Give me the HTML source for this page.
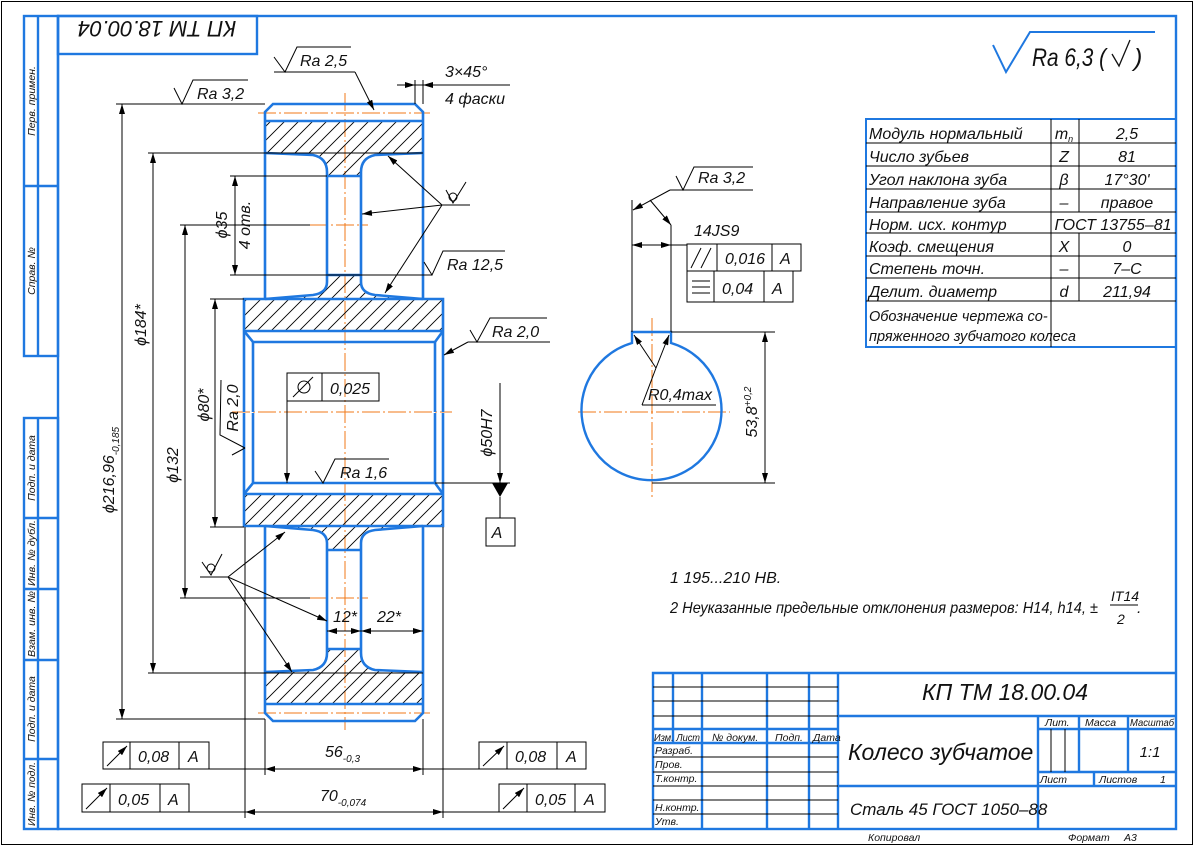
<!DOCTYPE html>
<html><head><meta charset="utf-8">
<style>
html,body{margin:0;padding:0;background:#fff;}
svg{display:block;}
text{font-family:"Liberation Sans","DejaVu Sans",sans-serif;font-style:italic;fill:#111;}
</style></head>
<body>
<svg width="1194" height="846" viewBox="0 0 1194 846" xmlns="http://www.w3.org/2000/svg">
<defs>
<marker id="a" viewBox="0 0 10 6" refX="10" refY="3" markerWidth="10" markerHeight="6" orient="auto-start-reverse" markerUnits="userSpaceOnUse"><path d="M0,0 L10,3 L0,6 Z" fill="#000"/></marker>
<pattern id="h" patternUnits="userSpaceOnUse" x="0" y="0" width="14" height="14"><path d="M0,14 L14,0 M-2,2 L2,-2 M12,16 L16,12" stroke="#000" stroke-width="0.9" fill="none"/></pattern>
<clipPath id="c">
 <path d="M265,121 H423 V153 L375,155 Q361,158 361,172 V176 H327 V172 Q327,158 313,155 L265,153 Z"/>
 <path d="M327,275 H361 V282 Q361,293 375,295 L423,299 H265 L313,295 Q327,293 327,282 Z"/>
 <path d="M244,299 H443 V331 H244 Z"/>
 <path transform="matrix(1,0,0,-1,0,825)" d="M265,121 H423 V153 L375,155 Q361,158 361,172 V176 H327 V172 Q327,158 313,155 L265,153 Z"/>
 <path transform="matrix(1,0,0,-1,0,825)" d="M327,275 H361 V282 Q361,293 375,295 L423,299 H265 L313,295 Q327,293 327,282 Z"/>
 <path transform="matrix(1,0,0,-1,0,825)" d="M244,299 H443 V331 H244 Z"/>
</clipPath>
<g id="half">
 <g fill="none" stroke="#1f78e0" stroke-width="2.6">
  <polyline points="265,299 265,112 273,104 415,104 423,112 423,299"/>
  <line x1="265" y1="121" x2="423" y2="121"/>
  <path d="M265,153 L313,155 Q327,158 327,172 V282 Q327,293 313,295 L265,299"/>
  <path d="M423,153 L375,155 Q361,158 361,172 V282 Q361,293 375,295 L423,299"/>
  <line x1="327" y1="176" x2="361" y2="176"/>
  <line x1="327" y1="275" x2="361" y2="275"/>
  <polyline points="244,412 244,299 443,299 443,412"/>
  <line x1="244" y1="331" x2="443" y2="331"/>
  <polyline points="244,331 253,342 435,342 443,331"/>
  <line x1="253" y1="342" x2="253" y2="412"/>
  <line x1="435" y1="342" x2="435" y2="412"/>
 </g>
</g>
</defs>

<rect x="1.5" y="1.5" width="1191" height="843" fill="none" stroke="#000" stroke-width="1"/>
<g fill="none" stroke="#1f78e0" stroke-width="2.4">
 <rect x="58" y="16" width="1118" height="813"/>
 <rect x="24" y="16" width="34" height="340"/>
 <line x1="38" y1="16" x2="38" y2="356"/>
 <line x1="24" y1="186" x2="58" y2="186"/>
 <rect x="24" y="418" width="34" height="411"/>
 <line x1="38" y1="418" x2="38" y2="829"/>
 <line x1="24" y1="518" x2="58" y2="518"/>
 <line x1="24" y1="589" x2="58" y2="589"/>
 <line x1="24" y1="660" x2="58" y2="660"/>
 <line x1="24" y1="759" x2="58" y2="759"/>
 <rect x="58" y="16" width="199" height="38"/>
</g>
<g font-size="10.5">
 <text transform="translate(35,101) rotate(-90)" text-anchor="middle">Перв. примен.</text>
 <text transform="translate(35,271) rotate(-90)" text-anchor="middle">Справ. №</text>
 <text transform="translate(35,468) rotate(-90)" text-anchor="middle">Подп. и дата</text>
 <text transform="translate(35,553) rotate(-90)" text-anchor="middle" textLength="66" lengthAdjust="spacingAndGlyphs">Инв. № дубл.</text>
 <text transform="translate(35,624) rotate(-90)" text-anchor="middle" textLength="66" lengthAdjust="spacingAndGlyphs">Взам. инв. №</text>
 <text transform="translate(35,709) rotate(-90)" text-anchor="middle">Подп. и дата</text>
 <text transform="translate(35,794) rotate(-90)" text-anchor="middle" textLength="64" lengthAdjust="spacingAndGlyphs">Инв. № подл.</text>
</g>
<text transform="translate(157,27) rotate(180)" text-anchor="middle" font-size="22" dominant-baseline="middle">КП ТМ 18.00.04</text>

<polyline points="993,45 1006,72 1030,32 1155,32" fill="none" stroke="#1f78e0" stroke-width="2"/>
<text x="1032" y="66" font-size="25" textLength="74" lengthAdjust="spacingAndGlyphs">Ra 6,3 (</text>
<polyline points="1112,54 1119,66 1130,40" fill="none" stroke="#111" stroke-width="1.3"/>
<text x="1134" y="66" font-size="25">)</text>

<g fill="none" stroke="#1f78e0" stroke-width="2">
 <rect x="866" y="119" width="310" height="228"/>
</g>
<g stroke="#000" stroke-width="1">
 <line x1="866" y1="143" x2="1176" y2="143"/><line x1="866" y1="166" x2="1176" y2="166"/>
 <line x1="866" y1="189" x2="1176" y2="189"/><line x1="866" y1="212" x2="1176" y2="212"/>
 <line x1="866" y1="233" x2="1176" y2="233"/><line x1="866" y1="256" x2="1176" y2="256"/>
 <line x1="866" y1="278" x2="1176" y2="278"/><line x1="866" y1="301" x2="1176" y2="301"/>
 <line x1="1051" y1="119" x2="1051" y2="347"/>
 <line x1="1079" y1="119" x2="1079" y2="212"/><line x1="1079" y1="233" x2="1079" y2="301"/>
</g>
<g font-size="16">
 <text x="869" y="139">Модуль нормальный</text>
 <text x="869" y="162">Число зубьев</text>
 <text x="869" y="185">Угол наклона зуба</text>
 <text x="869" y="208">Направление зуба</text>
 <text x="869" y="230">Норм. исх. контур</text>
 <text x="869" y="252">Коэф. смещения</text>
 <text x="869" y="274">Степень точн.</text>
 <text x="869" y="297">Делит. диаметр</text>
 <text x="869" y="321" font-size="14.5">Обозначение чертежа со-</text>
 <text x="869" y="341" font-size="14.5">пряженного зубчатого колеса</text>
 <g text-anchor="middle">
 <text x="1064" y="139">m<tspan font-size="9" dy="3">n</tspan></text>
 <text x="1064" y="162">Z</text><text x="1064" y="185">β</text><text x="1064" y="208">–</text>
 <text x="1064" y="252">X</text><text x="1064" y="274">–</text><text x="1064" y="297">d</text>
 <text x="1127" y="139">2,5</text><text x="1127" y="162">81</text><text x="1127" y="185">17°30'</text>
 <text x="1127" y="208">правое</text><text x="1113" y="230">ГОСТ 13755–81</text>
 <text x="1127" y="252">0</text><text x="1127" y="274">7–С</text><text x="1127" y="297">211,94</text>
 </g>
</g>

<g stroke="#f07a1a" stroke-width="1" stroke-dasharray="18,3,2,3" fill="none">
 <line x1="345" y1="93" x2="345" y2="730"/>
 <line x1="232" y1="412" x2="452" y2="412"/>
 <line x1="258" y1="113" x2="430" y2="113"/>
 <line x1="258" y1="713" x2="430" y2="713"/>
 <line x1="310" y1="225" x2="368" y2="225"/>
 <line x1="310" y1="598" x2="368" y2="598"/>
 <line x1="652" y1="318" x2="652" y2="498"/>
 <line x1="578" y1="412" x2="730" y2="412"/>
</g>

<rect x="240" y="100" width="210" height="625" fill="url(#h)" clip-path="url(#c)"/>
<use href="#half"/>
<use href="#half" transform="matrix(1,0,0,-1,0,825)"/>

<g stroke="#000" stroke-width="1" fill="none">
 <line x1="116" y1="104" x2="265" y2="104"/>
 <line x1="116" y1="719" x2="265" y2="719"/>
 <line x1="148" y1="153" x2="423" y2="153"/>
 <line x1="148" y1="673" x2="423" y2="673"/>
 <line x1="180" y1="225" x2="310" y2="225"/>
 <line x1="180" y1="598" x2="310" y2="598"/>
 <line x1="210" y1="299" x2="244" y2="299"/>
 <line x1="210" y1="527" x2="244" y2="527"/>
 <line x1="230" y1="176" x2="327" y2="176"/>
 <line x1="230" y1="275" x2="432" y2="275"/>
 <line x1="122" y1="104" x2="122" y2="719" marker-start="url(#a)" marker-end="url(#a)"/>
 <line x1="153" y1="153" x2="153" y2="673" marker-start="url(#a)" marker-end="url(#a)"/>
 <line x1="185" y1="225" x2="185" y2="598" marker-start="url(#a)" marker-end="url(#a)"/>
 <line x1="215" y1="299" x2="215" y2="527" marker-start="url(#a)" marker-end="url(#a)"/>
 <line x1="235" y1="176" x2="235" y2="275" marker-start="url(#a)" marker-end="url(#a)"/>
 <line x1="265" y1="719" x2="265" y2="775"/><line x1="423" y1="719" x2="423" y2="775"/>
 <line x1="245" y1="527" x2="245" y2="818"/><line x1="443" y1="527" x2="443" y2="818"/>
 <line x1="209" y1="769" x2="479" y2="769"/>
 <line x1="265" y1="769" x2="423" y2="769" marker-start="url(#a)" marker-end="url(#a)"/>
 <line x1="189" y1="812" x2="499" y2="812"/>
 <line x1="245" y1="812" x2="443" y2="812" marker-start="url(#a)" marker-end="url(#a)"/>
 <line x1="327" y1="631" x2="423" y2="631"/>
 <line x1="327" y1="631" x2="361" y2="631" marker-start="url(#a)" marker-end="url(#a)"/>
 <line x1="361" y1="631" x2="423" y2="631" marker-start="url(#a)" marker-end="url(#a)"/>
 <polyline points="174,88 182,104 193,80 248,80"/>
 <polyline points="274,57 285,72 297,47 351,47"/>
 <line x1="274" y1="72" x2="355" y2="72"/>
 <line x1="355" y1="72" x2="374" y2="110" marker-end="url(#a)"/>
 <line x1="415" y1="80" x2="415" y2="104"/><line x1="423" y1="80" x2="423" y2="104"/>
 <line x1="397" y1="85" x2="510" y2="85"/>
 <line x1="397" y1="85" x2="415" y2="85" marker-end="url(#a)"/>
 <line x1="441" y1="85" x2="423" y2="85" marker-end="url(#a)"/>
 <polyline points="424,262 432,275 443,251 505,251"/>
 <line x1="442" y1="205" x2="470" y2="205"/>
 <circle cx="453" cy="197" r="4"/>
 <polyline points="446,190 453,203 466,182"/>
 <line x1="442" y1="205" x2="388" y2="156" marker-end="url(#a)"/>
 <line x1="442" y1="205" x2="362" y2="214" marker-end="url(#a)"/>
 <line x1="442" y1="205" x2="385" y2="293" marker-end="url(#a)"/>
 <line x1="200" y1="577" x2="228" y2="577"/>
 <circle cx="211" cy="568" r="4"/>
 <polyline points="202,562 211,575 222,554"/>
 <line x1="228" y1="577" x2="285" y2="532" marker-end="url(#a)"/>
 <line x1="228" y1="577" x2="327" y2="621" marker-end="url(#a)"/>
 <line x1="228" y1="577" x2="292" y2="672" marker-end="url(#a)"/>
 <polyline points="470,330 477,342 490,318 547,318"/>
 <line x1="468" y1="342" x2="550" y2="342"/>
 <line x1="468" y1="342" x2="444" y2="355" marker-end="url(#a)"/>
 <polyline points="221,380 220,435 245,448"/>
 <line x1="232" y1="455" x2="245" y2="448"/>
 <rect x="287" y="373" width="92" height="28"/>
 <line x1="322" y1="373" x2="322" y2="401"/>
 <circle cx="304" cy="387" r="6"/>
 <line x1="293" y1="397" x2="313" y2="377"/>
 <line x1="287" y1="401" x2="287" y2="483" marker-end="url(#a)"/>
 <line x1="500" y1="383" x2="500" y2="483" marker-end="url(#a)"/>
 <line x1="435" y1="483" x2="510" y2="483"/>
 <line x1="500" y1="497" x2="500" y2="518"/>
 <rect x="486" y="518" width="29" height="28"/>
 <polyline points="315,471 323,483 335,459 389,459"/>
 <rect x="103" y="742" width="106" height="27"/><line x1="130" y1="742" x2="130" y2="769"/><line x1="179" y1="742" x2="179" y2="769"/>
 <line x1="107" y1="766" x2="127" y2="746" marker-end="url(#a)"/>
 <rect x="479" y="742" width="107" height="27"/><line x1="507" y1="742" x2="507" y2="769"/><line x1="557" y1="742" x2="557" y2="769"/>
 <line x1="483" y1="766" x2="504" y2="746" marker-end="url(#a)"/>
 <rect x="82" y="784" width="107" height="28"/><line x1="110" y1="784" x2="110" y2="812"/><line x1="160" y1="784" x2="160" y2="812"/>
 <line x1="86" y1="809" x2="107" y2="788" marker-end="url(#a)"/>
 <rect x="499" y="784" width="106" height="28"/><line x1="527" y1="784" x2="527" y2="812"/><line x1="575" y1="784" x2="575" y2="812"/>
 <line x1="503" y1="809" x2="524" y2="788" marker-end="url(#a)"/>
</g>
<path d="M492,483 L508,483 L500,497 Z" fill="#000"/>

<g font-size="16">
 <text x="197" y="99">Ra 3,2</text>
 <text x="300" y="66">Ra 2,5</text>
 <text x="445" y="77">3×45°</text>
 <text x="445" y="104">4 фаски</text>
 <text x="447" y="270">Ra 12,5</text>
 <text x="492" y="337">Ra 2,0</text>
 <text x="330" y="394">0,025</text>
 <text x="340" y="478">Ra 1,6</text>
 <text x="497" y="538" text-anchor="middle">A</text>
 <text x="333" y="622">12*</text>
 <text x="377" y="622">22*</text>
 <text x="325" y="757">56<tspan font-size="10" dy="5">-0,3</tspan></text>
 <text x="320" y="801">70<tspan font-size="10" dy="5">-0,074</tspan></text>
 <text x="138" y="762">0,08</text><text x="188" y="762">A</text>
 <text x="515" y="762">0,08</text><text x="566" y="762">A</text>
 <text x="118" y="805">0,05</text><text x="168" y="805">A</text>
 <text x="535" y="805">0,05</text><text x="584" y="805">A</text>
 <text transform="translate(114,470) rotate(-90)" text-anchor="middle">ϕ216,96<tspan font-size="10" dy="5">-0,185</tspan></text>
 <text transform="translate(146,325) rotate(-90)" text-anchor="middle">ϕ184*</text>
 <text transform="translate(178,465) rotate(-90)" text-anchor="middle">ϕ132</text>
 <text transform="translate(209,405) rotate(-90)" text-anchor="middle">ϕ80*</text>
 <text transform="translate(238,408) rotate(-90)" text-anchor="middle">Ra 2,0</text>
 <text transform="translate(227,225) rotate(-90)" text-anchor="middle">ϕ35</text>
 <text transform="translate(250,225) rotate(-90)" text-anchor="middle">4 отв.</text>
 <text transform="translate(492,433) rotate(-90)" text-anchor="middle">ϕ50H7</text>
</g>

<path d="M632,332 L671,332 L671,343 A70,70 0 1 1 632,343 Z" fill="none" stroke="#1f78e0" stroke-width="2.4"/>
<g stroke="#000" stroke-width="1" fill="none">
 <line x1="632" y1="200" x2="632" y2="332"/>
 <line x1="671" y1="225" x2="671" y2="332"/>
 <line x1="632" y1="245" x2="687" y2="245"/>
 <line x1="632" y1="245" x2="671" y2="245" marker-start="url(#a)" marker-end="url(#a)"/>
 <polyline points="676,176 683,190 694,167 753,167"/>
 <line x1="670" y1="190" x2="753" y2="190"/>
 <line x1="670" y1="190" x2="633" y2="210" marker-end="url(#a)"/>
 <line x1="650" y1="200" x2="671" y2="225" marker-end="url(#a)"/>
 <rect x="687" y="244" width="114" height="27"/><line x1="717" y1="244" x2="717" y2="271"/><line x1="772" y1="244" x2="772" y2="271"/>
 <line x1="691" y1="268" x2="701" y2="248"/><line x1="701" y1="268" x2="711" y2="248"/>
 <rect x="687" y="271" width="106" height="31"/><line x1="714" y1="271" x2="714" y2="302"/><line x1="764" y1="271" x2="764" y2="302"/>
 <line x1="692" y1="281" x2="710" y2="281"/><line x1="692" y1="287" x2="710" y2="287"/><line x1="692" y1="293" x2="710" y2="293"/>
 <line x1="656" y1="368" x2="634" y2="335" marker-end="url(#a)"/>
 <line x1="656" y1="368" x2="669" y2="335" marker-end="url(#a)"/>
 <line x1="656" y1="368" x2="642" y2="405"/>
 <line x1="642" y1="405" x2="716" y2="405"/>
 <line x1="671" y1="332" x2="775" y2="332"/>
 <line x1="652" y1="483" x2="775" y2="483"/>
 <line x1="765" y1="332" x2="765" y2="483" marker-start="url(#a)" marker-end="url(#a)"/>
</g>
<g font-size="16">
 <text x="694" y="236">14JS9</text>
 <text x="698" y="183">Ra 3,2</text>
 <text x="725" y="264">0,016</text><text x="780" y="264">A</text>
 <text x="722" y="294">0,04</text><text x="772" y="294">A</text>
 <text x="648" y="400">R0,4max</text>
 <text transform="translate(757,412) rotate(-90)" text-anchor="middle">53,8<tspan font-size="10" dy="-6">+0,2</tspan></text>
</g>

<g font-size="16">
 <text x="670" y="583">1 195...210 HB.</text>
 <text x="670" y="613" textLength="428" lengthAdjust="spacingAndGlyphs">2 Неуказанные предельные отклонения размеров: H14, h14, ±</text>
 <text x="1111" y="601" font-size="14">IT14</text>
 <line x1="1110" y1="605" x2="1138" y2="605" stroke="#000"/>
 <text x="1117" y="624" font-size="14">2</text>
 <text x="1137" y="613">.</text>
</g>

<g fill="none" stroke="#1f78e0" stroke-width="2.4">
 <polyline points="653,829 653,673 1176,673"/>
 <line x1="673" y1="673" x2="673" y2="743"/>
 <line x1="702" y1="673" x2="702" y2="829"/>
 <line x1="767" y1="673" x2="767" y2="829"/>
 <line x1="809" y1="673" x2="809" y2="829"/>
 <line x1="838" y1="673" x2="838" y2="829"/>
 <line x1="653" y1="729" x2="838" y2="729"/>
 <line x1="653" y1="743" x2="838" y2="743"/>
 <line x1="838" y1="716" x2="1176" y2="716"/>
 <line x1="838" y1="786" x2="1176" y2="786"/>
 <line x1="1038" y1="716" x2="1038" y2="829"/>
 <line x1="1038" y1="729" x2="1176" y2="729"/>
 <line x1="1038" y1="772" x2="1176" y2="772"/>
 <line x1="1079" y1="716" x2="1079" y2="772"/>
 <line x1="1128" y1="716" x2="1128" y2="772"/>
 <line x1="1094" y1="772" x2="1094" y2="786"/>
</g>
<g stroke="#000" stroke-width="1">
 <line x1="653" y1="687" x2="838" y2="687"/><line x1="653" y1="701" x2="838" y2="701"/><line x1="653" y1="716" x2="838" y2="716"/>
 <line x1="653" y1="757" x2="838" y2="757"/><line x1="653" y1="772" x2="838" y2="772"/>
 <line x1="653" y1="786" x2="838" y2="786"/><line x1="653" y1="800" x2="838" y2="800"/><line x1="653" y1="814" x2="838" y2="814"/>
 <line x1="1051" y1="729" x2="1051" y2="772"/><line x1="1065" y1="729" x2="1065" y2="772"/>
</g>
<g font-size="10.5">
 <text x="654" y="741" textLength="46" lengthAdjust="spacingAndGlyphs">Изм. Лист</text><text x="712" y="741">№ докум.</text><text x="775" y="741">Подп.</text><text x="813" y="741">Дата</text>
 <text x="655" y="754">Разраб.</text><text x="655" y="768">Пров.</text><text x="655" y="782">Т.контр.</text>
 <text x="655" y="811">Н.контр.</text><text x="655" y="825">Утв.</text>
 <text x="1045" y="726">Лит.</text><text x="1085" y="726">Масса</text><text x="1130" y="726" textLength="44" lengthAdjust="spacingAndGlyphs">Масштаб</text>
 <text x="1040" y="783">Лист</text><text x="1099" y="783">Листов</text><text x="1160" y="783">1</text>
 <text x="868" y="841">Копировал</text><text x="1068" y="841">Формат</text><text x="1124" y="841">A3</text>
</g>
<text x="1005" y="700" font-size="23" text-anchor="middle">КП ТМ 18.00.04</text>
<text x="848" y="760" font-size="23">Колесо зубчатое</text>
<text x="850" y="815" font-size="17">Сталь 45 ГОСТ 1050–88</text>
<text x="1150" y="757" font-size="15" text-anchor="middle">1:1</text>
</svg>
</body></html>
